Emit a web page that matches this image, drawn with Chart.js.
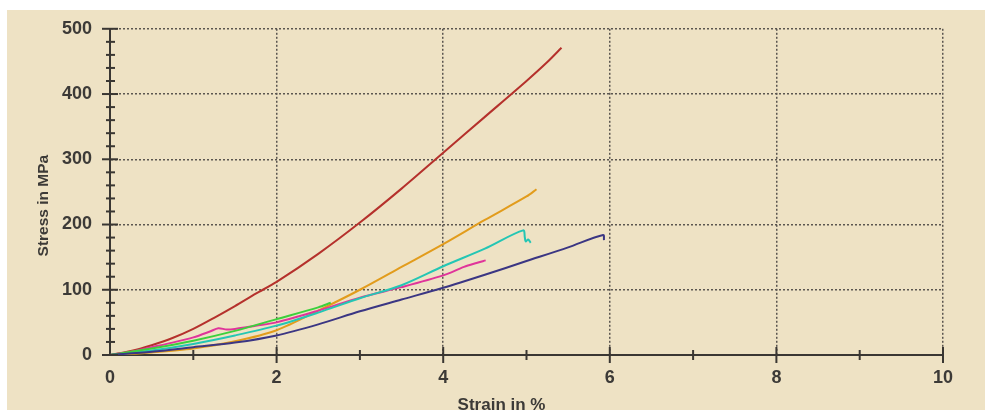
<!DOCTYPE html>
<html>
<head>
<meta charset="utf-8">
<script src="https://cdn.jsdelivr.net/npm/chart.js@4/dist/chart.umd.min.js"></script>
<style>
  body { margin: 0; background: #ffffff; }
  #bg { position: absolute; left: 7px; top: 10px; width: 978px; height: 400px; background: #eee2c4; }
  #stress-strain { position: absolute; left: 0; top: 0; }
</style>
</head>
<body>
<div id="bg"></div>
<canvas id="stress-strain" width="985" height="410"></canvas>
<script>
// strain in %, stress in MPa, one pair of arrays per specimen
var redStrain = [0, 0.25, 0.5, 0.75, 1, 1.25, 1.5, 1.75, 2, 2.5, 3, 3.5, 4, 4.5, 5, 5.25, 5.42];
var redStress = [0, 6, 15, 26, 40, 57, 75, 94, 112, 155, 203, 255, 310, 365, 420, 449, 471];

var orangeStrain = [0, 0.5, 1, 1.5, 2, 2.5, 3, 3.5, 4, 4.5, 5, 5.12];
var orangeStress = [0, 4, 10, 21, 38, 68, 100, 135, 170, 207, 243, 254];

var cyanStrain = [0, 0.5, 1, 1.5, 2, 2.5, 3, 3.5, 4, 4.5, 4.96, 4.98, 4.99, 5.02, 5.05];
var cyanStress = [0, 7, 17, 30, 45, 65, 87, 107, 136, 163, 191, 180, 174, 177, 172];

var greenStrain = [0, 0.5, 1, 1.5, 2, 2.5, 2.65];
var greenStress = [0, 10, 22, 37, 55, 73, 80];

var pinkStrain = [0, 0.25, 0.5, 0.75, 1, 1.2, 1.3, 1.4, 1.5, 1.75, 2, 2.5, 3, 3.5, 4, 4.25, 4.4, 4.51];
var pinkStress = [0, 5, 12, 19, 27, 36, 41, 39, 40, 45, 50, 68, 88, 104, 122, 135, 141, 145];

var navyStrain = [0, 0.5, 1, 1.5, 2, 2.5, 3, 3.5, 4, 4.5, 5, 5.5, 5.92, 5.93];
var navyStress = [0, 5, 12, 19, 30, 47, 67, 85, 103, 123, 144, 165, 184, 176];

var xTicks = [0, 2, 4, 6, 8, 10];
var yTicks = [0, 100, 200, 300, 400, 500];

var axisColor = "#3a3733";
var gridColor = "#5b5650";
var textColor = "#3c3a37";
var labelFont = "Liberation Sans, Arial, sans-serif";

function curve(xs, ys) {
    return xs.map(function (x, i) { return { x: x, y: ys[i] }; });
}

function series(label, xs, ys, color) {
    return {
        label: label,
        data: curve(xs, ys),
        borderColor: color,
        backgroundColor: color,
        borderWidth: 2,
        pointRadius: 0,
        showLine: true,
        tension: 0.3
    };
}

// axis ticks crossing the axis lines, plus the two axis titles
var axisDecor = {
    id: "axisDecor",
    afterDraw: function (chart) {
        var c = chart.ctx;
        var xs = chart.scales.x, ys = chart.scales.y;
        var x0 = xs.getPixelForValue(0), y0 = ys.getPixelForValue(0);
        c.save();
        c.strokeStyle = axisColor;
        c.lineWidth = 2;
        for (var v = 0; v <= 500; v += 20) {
            var py = ys.getPixelForValue(v);
            var major = v % 100 === 0;
            c.beginPath();
            c.moveTo(x0 - (major ? 8 : 4), py);
            c.lineTo(x0 + (major ? 8 : 5), py);
            c.stroke();
        }
        for (var s = 1; s <= 10; s += 1) {
            var px = xs.getPixelForValue(s);
            var maj = s % 2 === 0;
            c.beginPath();
            c.moveTo(px, y0 - (maj ? 8 : 5));
            c.lineTo(px, y0 + (maj ? 8 : 5));
            c.stroke();
        }
        c.fillStyle = textColor;
        c.font = "bold 17px " + labelFont;
        c.textAlign = "center";
        c.textBaseline = "alphabetic";
        c.fillText("Strain in %", xs.getPixelForValue(4.7), 410);
        c.font = "bold 15.5px " + labelFont;
        c.translate(48, ys.getPixelForValue(229));
        c.rotate(-Math.PI / 2);
        c.fillText("Stress in MPa", 0, 0);
        c.restore();
    }
};

var chartData = {
    datasets: [
        series("Specimen 6", navyStrain, navyStress, "#3b3683"),
        series("Specimen 4", greenStrain, greenStress, "#3cd03c"),
        series("Specimen 3", cyanStrain, cyanStress, "#24c6b4"),
        series("Specimen 5", pinkStrain, pinkStress, "#e0349a"),
        series("Specimen 2", orangeStrain, orangeStress, "#e29c1c"),
        series("Specimen 1", redStrain, redStress, "#b5312c")
    ]
};

var chartOptions = {
    responsive: false,
    animation: false,
    layout: { padding: { top: 25, right: 42, left: 0, bottom: 0 } },
    plugins: { legend: { display: false }, tooltip: { enabled: false } },
    scales: {
        x: {
            type: "linear",
            min: 0,
            max: 10,
            afterFit: function (scale) { scale.height = 55; },
            afterBuildTicks: function (scale) {
                scale.ticks = xTicks.map(function (v) { return { value: v }; });
            },
            ticks: {
                color: textColor,
                padding: 12,
                font: { family: labelFont, weight: "bold", size: 18 }
            },
            grid: {
                drawTicks: false,
                lineWidth: 1.5,
                color: function (ctx) { return ctx.tick && ctx.tick.value === 0 ? "rgba(0,0,0,0)" : gridColor; }
            },
            border: { color: axisColor, width: 2, dash: [2, 2] }
        },
        y: {
            type: "linear",
            min: 0,
            max: 500,
            afterFit: function (scale) { scale.width = 110; },
            afterBuildTicks: function (scale) {
                scale.ticks = yTicks.map(function (v) { return { value: v }; });
            },
            ticks: {
                color: textColor,
                padding: 18,
                font: { family: labelFont, weight: "bold", size: 18 }
            },
            grid: {
                drawTicks: false,
                lineWidth: 1.5,
                color: function (ctx) { return ctx.tick && ctx.tick.value === 0 ? "rgba(0,0,0,0)" : gridColor; }
            },
            border: { color: axisColor, width: 2, dash: [2, 2] }
        }
    }
};

var stressChart = new Chart(document.getElementById("stress-strain"), {
    type: "scatter",
    data: chartData,
    options: chartOptions,
    plugins: [axisDecor]
});
</script>
</body>
</html>
